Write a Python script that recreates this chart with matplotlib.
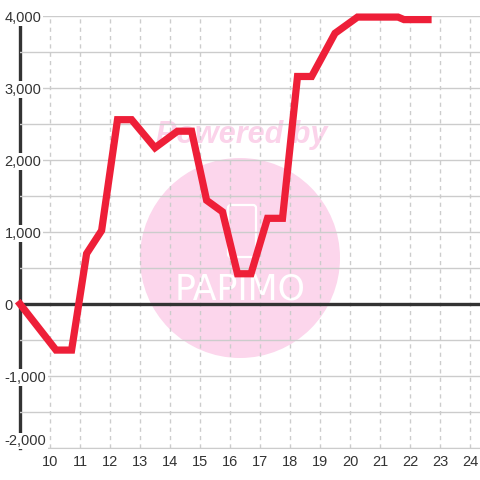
import matplotlib.pyplot as plt
from matplotlib.patches import Circle, FancyBboxPatch

# readings taken off the chart
x_vals = [9.0, 10.2, 10.72, 11.22, 11.72, 12.25, 12.72, 13.5, 14.25, 14.72,
          15.22, 15.75, 16.25, 16.7, 17.25, 17.75, 18.25, 18.72, 19.5, 20.25,
          21.6, 21.8, 22.6]
y_vals = [0, -640, -640, 700, 1020, 2560, 2560, 2170, 2400, 2400,
          1440, 1280, 420, 420, 1190, 1190, 3160, 3160, 3760, 3985,
          3985, 3950, 3950]

x_ticks = list(range(10, 25))
y_ticks = [-2000, -1000, 0, 1000, 2000, 3000, 4000]
y_tick_labels = ['-2,000', '-1,000', '0', '1,000', '2,000', '3,000', '4,000']

plt.rcParams['font.family'] = ['Liberation Sans', 'DejaVu Sans']

fig = plt.figure(figsize=(4.8, 4.8), dpi=100)
ax = fig.add_axes([20 / 480, 32 / 480, 460 / 480, 432 / 480])
ax.set_xlim(9, 9 + 460 / 30)
ax.set_ylim(-2000, 4000)

# watermark (under the data line)
ax.add_patch(Circle((0.5, 222 / 480), 100 / 480, transform=fig.transFigure,
                    facecolor='#fcd6ec', edgecolor='none', zorder=1))
ax.add_patch(FancyBboxPatch((228 / 480, 223 / 480), 28 / 480, 52 / 480,
                            boxstyle='round,pad=0,rounding_size=0.006',
                            transform=fig.transFigure, facecolor='none',
                            edgecolor='white', lw=1.6, zorder=1.1))
ax.text(240 / 480, 190 / 480, 'PAPIMO', color='white', fontsize=25,
        family='DejaVu Sans', ha='center', va='center', zorder=1.1,
        transform=fig.transFigure)
ax.text(242 / 480, 345 / 480, 'Powered by', color='#fbd3ea', fontsize=22,
        weight='bold', style='italic', ha='center', va='center', zorder=1.2,
        transform=fig.transFigure)

# grid
ax.set_yticks(range(-2000, 4001, 500), minor=True)
ax.grid(True, axis='y', which='both', color='#cccccc', lw=1)
ax.grid(True, axis='x', which='major', color='#cccccc', lw=1, ls=(0, (3, 3)))
ax.set_axisbelow(False)

ax.axhline(0, color='#333333', lw=2.4, zorder=2.6)
ax.plot(x_vals, y_vals, color='#ee1f38', lw=5.2, zorder=3,
        solid_joinstyle='miter', clip_on=False)

for s in ['top', 'right']:
    ax.spines[s].set_visible(False)
ax.spines['bottom'].set_color('#cccccc')
ax.spines['left'].set_color('#333333')
ax.spines['left'].set_linewidth(2.4)

ax.set_xticks(x_ticks)
ax.set_yticks(y_ticks)
ax.set_yticklabels(y_tick_labels)
ax.tick_params(axis='both', which='both', length=0, labelsize=10.5,
               labelcolor='#333333')
ax.tick_params(axis='x', pad=5)
ax.tick_params(axis='y', pad=11)
for lbl in ax.get_yticklabels():
    lbl.set_ha('left')
    lbl.set_bbox(dict(facecolor='white', edgecolor='none', pad=1))
ax.get_yticklabels()[0].set_va('bottom')

fig.savefig('out.png', dpi=100)
